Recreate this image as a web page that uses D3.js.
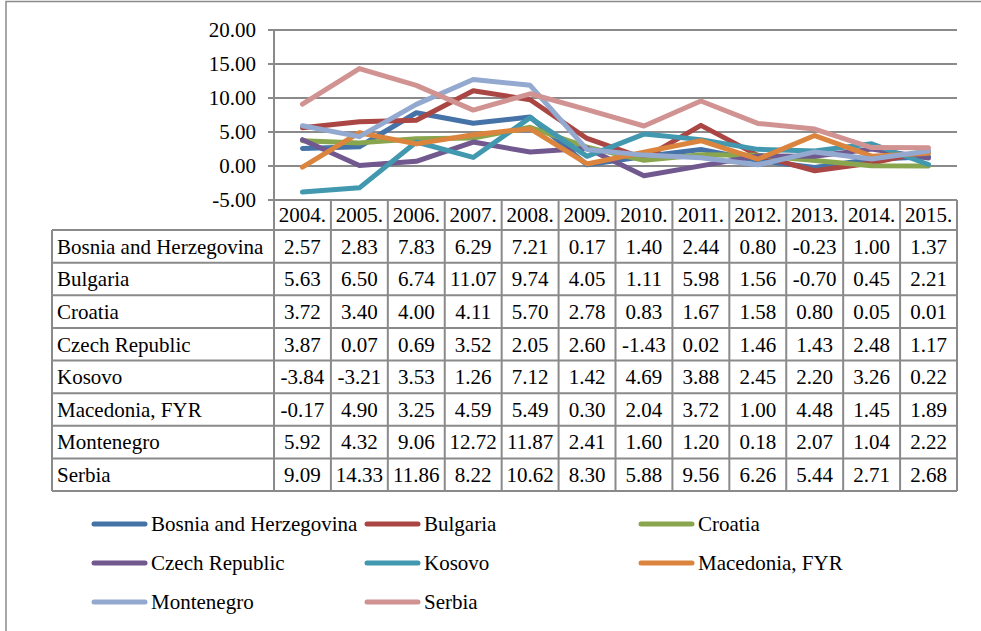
<!DOCTYPE html>
<html>
<head>
<meta charset="utf-8">
<script src="https://cdn.jsdelivr.net/npm/d3@7"></script>
<style>
  body { margin: 0; background: #fff; }
  svg { display: block; font-family: "Liberation Serif", "Times New Roman", serif; }
</style>
</head>
<body>
<script>
const years = ["2004.", "2005.", "2006.", "2007.", "2008.", "2009.", "2010.", "2011.", "2012.", "2013.", "2014.", "2015."];
const yTicks = [-5, 0, 5, 10, 15, 20];

const bosnia     = [2.57, 2.83, 7.83, 6.29, 7.21, 0.17, 1.40, 2.44, 0.80, -0.23, 1.00, 1.37];
const bulgaria   = [5.63, 6.50, 6.74, 11.07, 9.74, 4.05, 1.11, 5.98, 1.56, -0.70, 0.45, 2.21];
const croatia    = [3.72, 3.40, 4.00, 4.11, 5.70, 2.78, 0.83, 1.67, 1.58, 0.80, 0.05, 0.01];
const czech      = [3.87, 0.07, 0.69, 3.52, 2.05, 2.60, -1.43, 0.02, 1.46, 1.43, 2.48, 1.17];
const kosovo     = [-3.84, -3.21, 3.53, 1.26, 7.12, 1.42, 4.69, 3.88, 2.45, 2.20, 3.26, 0.22];
const macedonia  = [-0.17, 4.90, 3.25, 4.59, 5.49, 0.30, 2.04, 3.72, 1.00, 4.48, 1.45, 1.89];
const montenegro = [5.92, 4.32, 9.06, 12.72, 11.87, 2.41, 1.60, 1.20, 0.18, 2.07, 1.04, 2.22];
const serbia     = [9.09, 14.33, 11.86, 8.22, 10.62, 8.30, 5.88, 9.56, 6.26, 5.44, 2.71, 2.68];

const series = [
  { name: "Bosnia and Herzegovina", values: bosnia,     color: "#4572A7" },
  { name: "Bulgaria",               values: bulgaria,   color: "#AA4643" },
  { name: "Croatia",                values: croatia,    color: "#89A54E" },
  { name: "Czech Republic",         values: czech,      color: "#71588F" },
  { name: "Kosovo",                 values: kosovo,     color: "#4198AF" },
  { name: "Macedonia, FYR",         values: macedonia,  color: "#DB843D" },
  { name: "Montenegro",             values: montenegro, color: "#93A9CF" },
  { name: "Serbia",                 values: serbia,     color: "#D19392" }
];

const W = 981, H = 631;
const fontSize = 21;
const gridColor = "#8a8a8a";
const fmt = v => v.toFixed(2); // plain hyphen for negatives, as in the source

const svg = d3.select(document.body).append("svg")
  .attr("width", W).attr("height", H);

// outer frame
svg.append("path")
  .attr("d", `M6,${H} V1.5 H${W}`)
  .attr("fill", "none").attr("stroke", gridColor).attr("stroke-width", 1.5);

const x = d3.scaleBand().domain(years).range([274, 957]).padding(0);
const y = d3.scaleLinear().domain([-5, 20]).range([200, 30]);
const cx = d => x(d) + x.bandwidth() / 2;

// gridlines
svg.append("g").selectAll("line").data(yTicks).join("line")
  .attr("x1", 268).attr("x2", 957)
  .attr("y1", d => y(d)).attr("y2", d => y(d))
  .attr("stroke", gridColor).attr("stroke-width", 2);

// y axis line
svg.append("line")
  .attr("x1", 274).attr("x2", 274).attr("y1", y(20)).attr("y2", y(-5))
  .attr("stroke", gridColor).attr("stroke-width", 2);

// y labels
svg.append("g").selectAll("text").data(yTicks).join("text")
  .attr("x", 256).attr("y", d => y(d)).attr("dy", "0.35em")
  .attr("text-anchor", "end").attr("font-size", fontSize).attr("fill", "#000")
  .text(fmt);

// lines
const line = d3.line().x((v, i) => cx(years[i])).y(v => y(v));
svg.append("g").selectAll("path").data(series).join("path")
  .attr("d", d => line(d.values))
  .attr("fill", "none").attr("stroke", d => d.color)
  .attr("stroke-width", 5).attr("stroke-linecap", "round").attr("stroke-linejoin", "round");

// data table
const tableLeft = 52, tableRight = 957, headTop = 200, headBottom = 230;
const rowH = (491 - headBottom) / series.length;
const rowY = i => headBottom + i * rowH;
const tbl = svg.append("g").attr("stroke", gridColor).attr("stroke-width", 2);

tbl.append("line").attr("x1", 274).attr("x2", tableRight).attr("y1", headTop).attr("y2", headTop);
d3.range(series.length + 1).forEach(i => {
  tbl.append("line").attr("x1", tableLeft).attr("x2", tableRight)
    .attr("y1", rowY(i)).attr("y2", rowY(i));
});
tbl.append("line").attr("x1", tableLeft).attr("x2", tableLeft).attr("y1", headBottom).attr("y2", rowY(series.length));
years.forEach(yr => {
  tbl.append("line").attr("x1", x(yr)).attr("x2", x(yr)).attr("y1", headTop).attr("y2", rowY(series.length));
});
tbl.append("line").attr("x1", tableRight).attr("x2", tableRight).attr("y1", headTop).attr("y2", rowY(series.length));

// header text
svg.append("g").selectAll("text").data(years).join("text")
  .attr("x", d => cx(d)).attr("y", (headTop + headBottom) / 2).attr("dy", "0.35em")
  .attr("text-anchor", "middle").attr("font-size", fontSize)
  .text(d => d);

// rows
const rows = svg.append("g").selectAll("g").data(series).join("g")
  .attr("transform", (d, i) => `translate(0,${rowY(i) + rowH / 2})`);
rows.append("text")
  .attr("x", 57).attr("dy", "0.35em").attr("font-size", fontSize)
  .text(d => d.name);
rows.selectAll("text.v").data(d => d.values).join("text")
  .attr("class", "v")
  .attr("x", (v, i) => cx(years[i])).attr("dy", "0.35em")
  .attr("text-anchor", "middle").attr("font-size", fontSize)
  .text(fmt);

// legend
const legCols = [92, 365, 639], legRows = [524, 563, 602];
const leg = svg.append("g").selectAll("g").data(series).join("g")
  .attr("transform", (d, i) => `translate(${legCols[i % 3]},${legRows[Math.floor(i / 3)]})`);
leg.append("line")
  .attr("x1", 2).attr("x2", 53)
  .attr("stroke", d => d.color).attr("stroke-width", 5).attr("stroke-linecap", "round");
leg.append("text")
  .attr("x", 59).attr("dy", "0.35em").attr("font-size", fontSize)
  .text(d => d.name);
</script>
</body>
</html>
